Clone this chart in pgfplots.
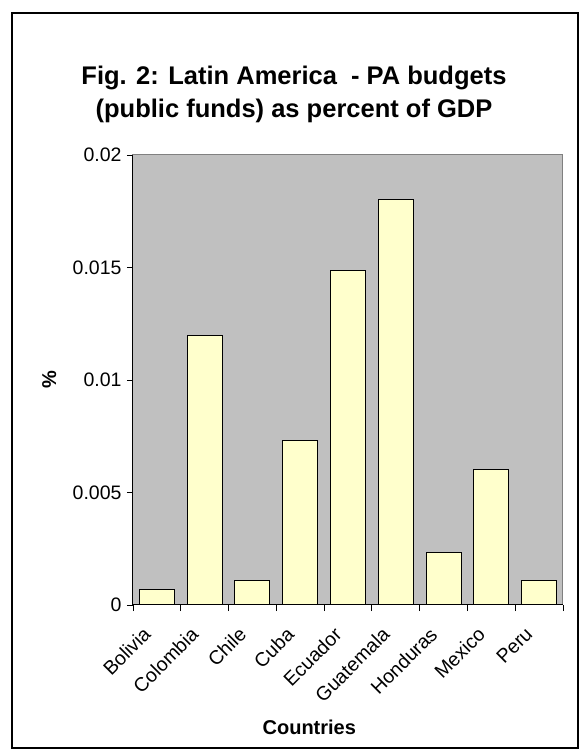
\documentclass[border=0pt]{standalone}
\usepackage{pgfplots}
\pgfplotsset{compat=1.18}
\usepackage{fontspec}
\setmainfont{Liberation Sans}
\definecolor{plotbg}{HTML}{C0C0C0}
\definecolor{barfill}{HTML}{FFFFCC}
\definecolor{frameg}{HTML}{808080}
\begin{document}
\begin{tikzpicture}[x=1pt,y=1pt]
\useasboundingbox (0,0) rectangle (583,753);
\draw[black, line width=1.5pt] (12,5) rectangle (578,740);
\node[align=center, font=\fontsize{25.5}{33}\selectfont\bfseries] at (294,659) {Fig. 2: Latin America\ \ - PA budgets\\(public funds) as percent of GDP};
\begin{axis}[
  at={(133pt,148pt)}, anchor=south west,
  scale only axis, width=430pt, height=450pt,
  xmin=-0.5, xmax=8.5, ymin=0, ymax=0.02,
  axis background/.style={fill=plotbg},
  axis line style={draw=frameg, line width=1pt},
  scaled y ticks=false,
  xtick pos=bottom, ytick pos=left,
  xtick={0,...,8},
  xticklabels={Bolivia,Colombia,Chile,Cuba,Ecuador,Guatemala,Honduras,Mexico,Peru},
  minor xtick={-0.5,0.5,...,8.5},
  ytick={0,0.005,0.01,0.015,0.02},
  yticklabels={0,0.005,0.01,0.015,0.02},
  tick align=outside,
  major tick length=6pt, minor tick length=6pt,
  x tick style={draw=none},
  minor x tick style={draw=black, line width=0.8pt},
  y tick style={draw=black, line width=0.8pt},
  ticklabel style={font=\fontsize{19.5}{22}\selectfont},
  x tick label style={xshift=-15pt, yshift=-12pt, rotate=45, anchor=north east, inner sep=2pt},
  y tick label style={xshift=-2pt},
  xlabel={Countries}, ylabel={\%},
  label style={font=\fontsize{20}{22}\selectfont\bfseries},
  xlabel style={at={(axis description cs:0.41,-0.273)}, anchor=center},
  ylabel style={at={(axis description cs:-0.195,0.5)}, anchor=center, rotate=0},
  clip=false,
]
\addplot[ybar, bar width=35pt, fill=barfill, draw=black, line width=1pt] coordinates {
 (0,0.00067) (1,0.01197) (2,0.00107) (3,0.00729) (4,0.01486) (5,0.01801) (6,0.00234) (7,0.00603) (8,0.00107)};
\draw[black, line width=1pt] (rel axis cs:0,1) -- (rel axis cs:0,0) -- (rel axis cs:1,0);
\end{axis}
\end{tikzpicture}
\end{document}
